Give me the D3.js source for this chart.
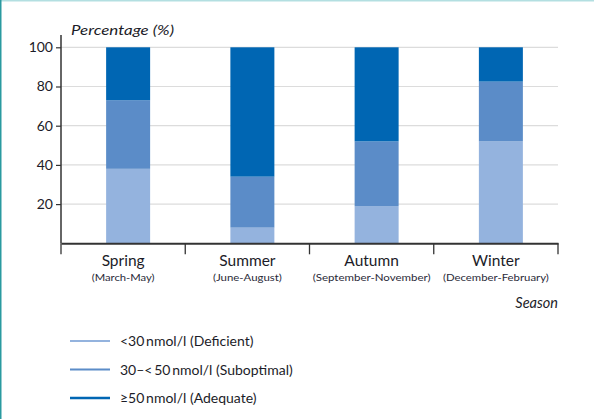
<!DOCTYPE html>
<html><head><meta charset="utf-8">
<script src="https://cdn.jsdelivr.net/npm/d3@7"></script>
<style>body{margin:0;background:#fff;} svg{display:block;}</style>
</head><body>
<svg id="c" width="594" height="419"></svg>
<script>
const seasons = ["Spring","Summer","Autumn","Winter"];
const seasonSubs = ["(March-May)","(June-August)","(September-November)","(December-February)"];
const deficient = [38, 8, 19, 52];
const suboptimal = [35, 26, 33, 30.5];
const adequate = [27, 66, 48, 17.5];
const seriesNames = ["<30\u2009nmol/l (Deficient)","30\u2013<\u200950\u2009nmol/l (Suboptimal)","\u226550\u2009nmol/l (Adequate)"];
const seriesKeys = ["deficient","suboptimal","adequate"];
const colors = ["#94b3de","#5b8cc8","#0066b3"];
const yTicks = [20,40,60,80,100];

const svg = d3.select("#c");
const font = "Lato, 'Open Sans', sans-serif";
// frame decoration
svg.append("rect").attr("x",0).attr("y",0).attr("width",594).attr("height",1.5).attr("fill","#b3dfe1");
svg.append("rect").attr("x",0).attr("y",0).attr("width",1.5).attr("height",419).attr("fill","#2a9aa0");

const x0 = 61, x1 = 558, yTop = 47.3, yBot = 243.3;
const x = d3.scaleBand().domain(seasons).range([x0, x1]).paddingInner(0).paddingOuter(0);
const y = d3.scaleLinear().domain([0,100]).range([yBot, yTop]);

// gridlines
svg.append("g").selectAll("line").data(yTicks).join("line")
  .attr("x1",x0).attr("x2",x1).attr("y1",d=>y(d)).attr("y2",d=>y(d))
  .attr("stroke","#dcdcdc").attr("stroke-width",1.2);

// stacked data
const data = seasons.map((s,i)=>({season:s, deficient:deficient[i], suboptimal:suboptimal[i], adequate:adequate[i]}));
const stack = d3.stack().keys(seriesKeys)(data);
const bw = 44;
svg.append("g").selectAll("g").data(stack).join("g").attr("fill",(d,i)=>colors[i])
  .selectAll("rect").data(d=>d).join("rect")
  .attr("x",d=>x(d.data.season)+x.bandwidth()/2 - bw/2 + 5)
  .attr("width",bw)
  .attr("y",d=>y(d[1]))
  .attr("height",d=>y(d[0])-y(d[1]));

// y axis
const yAxis = svg.append("g").attr("transform",`translate(${x0},0)`)
  .call(d3.axisLeft(y).tickValues(yTicks).tickSize(5).tickPadding(3));
yAxis.select(".domain").remove();
yAxis.selectAll("line").attr("stroke","#333").attr("stroke-width",1.2);
yAxis.selectAll("text").attr("font-family",font).attr("font-size",14).attr("fill","#1c1c28");
svg.append("line").attr("x1",x0).attr("x2",x0).attr("y1",35).attr("y2",yBot)
  .attr("stroke","#333").attr("stroke-width",1.5);

// x axis
const xAxis = svg.append("g").attr("transform",`translate(0,${yBot})`)
  .call(d3.axisBottom(x).tickSize(0).tickFormat(""));
xAxis.select(".domain").attr("stroke","#333").attr("stroke-width",2);
const bounds = seasons.map(s=>x(s)).concat([x1]);
svg.append("g").selectAll("line").data(bounds).join("line")
  .attr("x1",d=>d).attr("x2",d=>d).attr("y1",yBot).attr("y2",yBot+11)
  .attr("stroke","#333").attr("stroke-width",1.3);

// category labels
const lab = svg.append("g").selectAll("g").data(seasons).join("g")
  .attr("transform",d=>`translate(${x(d)+x.bandwidth()/2},0)`);
lab.append("text").attr("y",266).attr("text-anchor","middle")
  .attr("font-family",font).attr("font-size",15.5).attr("fill","#1c1c28").text(d=>d);
lab.append("text").attr("y",281).attr("text-anchor","middle")
  .attr("font-family",font).attr("font-size",10).attr("fill","#2a2a38")
  .attr("textLength",(d,i)=>[63,69,118,106][i]).attr("lengthAdjust","spacingAndGlyphs")
  .text((d,i)=>seasonSubs[i]);

// axis titles
svg.append("text").attr("x",71).attr("y",35).attr("font-family",font).attr("font-style","italic")
  .attr("font-size",14).attr("fill","#1c1c28").attr("textLength",103).attr("lengthAdjust","spacingAndGlyphs")
  .text("Percentage (%)");
svg.append("text").attr("x",558).attr("y",308).attr("text-anchor","end").attr("font-family",font)
  .attr("font-style","italic").attr("font-size",14.5).attr("fill","#1c1c28").text("Season");

// legend
const legY = [341, 369.5, 398];
const lg = svg.append("g").selectAll("g").data(seriesNames).join("g")
  .attr("transform",(d,i)=>`translate(70,${legY[i]})`);
lg.append("line").attr("x1",0).attr("x2",40).attr("y1",0).attr("y2",0)
  .attr("stroke",(d,i)=>colors[i]).attr("stroke-width",(d,i)=>i===2?2.6:2);
lg.append("text").attr("x",50).attr("y",5).attr("font-family",font).attr("font-size",14)
  .attr("fill","#1c1c28").text(d=>d);
</script>
</body></html>
